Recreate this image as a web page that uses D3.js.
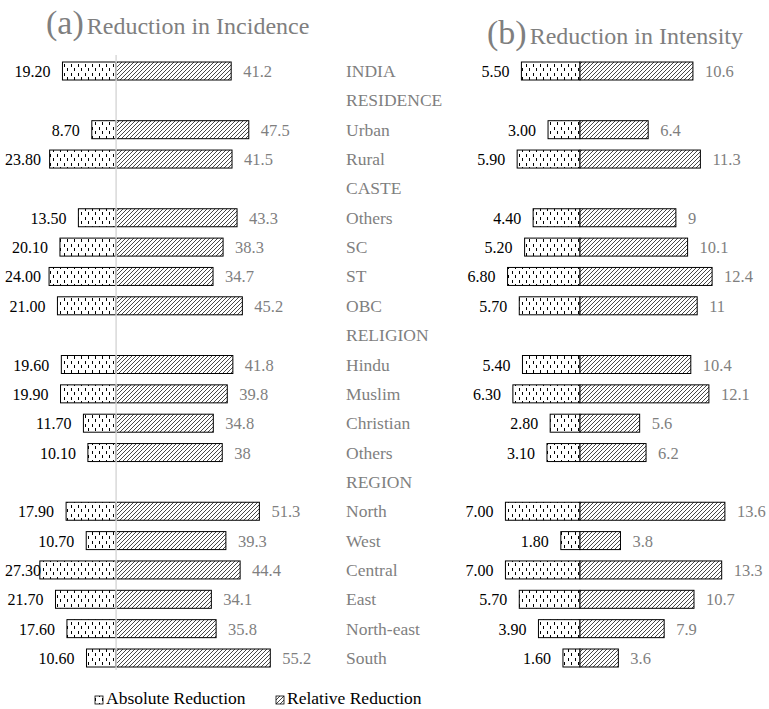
<!DOCTYPE html>
<html>
<head>
<meta charset="utf-8">
<script src="https://cdn.jsdelivr.net/npm/d3@7"></script>
<style>
  body { margin: 0; background: #fff; }
  .chart-text { font-family: "Liberation Serif", "Times New Roman", Times, "DejaVu Serif", serif; }
</style>
</head>
<body>
<div id="chart"></div>
<script>
// rows, with the group headings kept in place (null = heading row)
const rowLabels = ["INDIA", "RESIDENCE", "Urban", "Rural", "CASTE", "Others", "SC", "ST", "OBC",
  "RELIGION", "Hindu", "Muslim", "Christian", "Others", "REGION", "North", "West", "Central",
  "East", "North-east", "South"];

const incAbsolute = [19.20, null, 8.70, 23.80, null, 13.50, 20.10, 24.00, 21.00,
  null, 19.60, 19.90, 11.70, 10.10, null, 17.90, 10.70, 27.30, 21.70, 17.60, 10.60];
const incRelative = [41.2, null, 47.5, 41.5, null, 43.3, 38.3, 34.7, 45.2,
  null, 41.8, 39.8, 34.8, 38, null, 51.3, 39.3, 44.4, 34.1, 35.8, 55.2];

const intAbsolute = [5.50, null, 3.00, 5.90, null, 4.40, 5.20, 6.80, 5.70,
  null, 5.40, 6.30, 2.80, 3.10, null, 7.00, 1.80, 7.00, 5.70, 3.90, 1.60];
const intRelative = [10.6, null, 6.4, 11.3, null, 9, 10.1, 12.4, 11,
  null, 10.4, 12.1, 5.6, 6.2, null, 13.6, 3.8, 13.3, 10.7, 7.9, 3.6];

const legendLabels = ["Absolute Reduction", "Relative Reduction"];

const width = 769, height = 709;
const grey = "#7f7f7f";
const barH = 18;

const svg = d3.select("#chart").append("svg")
  .attr("width", width)
  .attr("height", height);

// patterns
const defs = svg.append("defs");
const dots = defs.append("pattern")
  .attr("id", "dash")
  .attr("patternUnits", "userSpaceOnUse")
  .attr("width", 7).attr("height", 9);
dots.append("rect").attr("width", 7).attr("height", 9).attr("fill", "#fff");
dots.append("rect").attr("x", 1).attr("y", 1).attr("width", 1).attr("height", 3).attr("fill", "#000");
dots.append("rect").attr("x", 4).attr("y", 5).attr("width", 1).attr("height", 3).attr("fill", "#000");

const hatch = defs.append("pattern")
  .attr("id", "hatch")
  .attr("patternUnits", "userSpaceOnUse")
  .attr("width", 4).attr("height", 4);
hatch.append("rect").attr("width", 4).attr("height", 4).attr("fill", "#fff");
hatch.append("path").attr("d", "M-1,1 l2,-2 M0,4 l4,-4 M3,5 l2,-2")
  .attr("stroke", "#333").attr("stroke-width", 0.9);

const y = d3.scalePoint()
  .domain(d3.range(rowLabels.length))
  .range([71, 658]);

// titles
function title(x, yy, letter, text) {
  const t = svg.append("text").attr("class", "chart-text")
    .attr("x", x).attr("y", yy).attr("fill", grey);
  t.append("tspan").attr("font-size", 34).text(letter);
  t.append("tspan").attr("font-size", 24).attr("dx", 3).text(text);
}
title(46, 34, "(a)", "Reduction in Incidence");
title(487, 44, "(b)", "Reduction in Intensity");

function panel(x, absVals, relVals, showAxis) {
  const g = svg.append("g");
  const rows = d3.range(rowLabels.length).filter(i => absVals[i] !== null);

  g.selectAll("rect.abs").data(rows).join("rect")
    .attr("class", "abs")
    .attr("x", i => x(-absVals[i]))
    .attr("y", i => y(i) - barH / 2)
    .attr("width", i => x(0) - x(-absVals[i]))
    .attr("height", barH)
    .attr("fill", "url(#dash)")
    .attr("stroke", "#000").attr("stroke-width", 1);

  g.selectAll("rect.rel").data(rows).join("rect")
    .attr("class", "rel")
    .attr("x", x(0))
    .attr("y", i => y(i) - barH / 2)
    .attr("width", i => x(relVals[i]) - x(0))
    .attr("height", barH)
    .attr("fill", "url(#hatch)")
    .attr("stroke", "#000").attr("stroke-width", 1);

  g.selectAll("text.abs").data(rows).join("text")
    .attr("class", "abs chart-text")
    .attr("text-anchor", "end")
    .attr("font-size", 16)
    .attr("fill", "#000")
    .attr("y", i => y(i) + 6)
    .text(i => absVals[i].toFixed(2))
    .attr("x", function(i) {
      const w = this.getComputedTextLength();
      return Math.max(x(-absVals[i]) - 12, 5 + w);
    });

  g.selectAll("text.rel").data(rows).join("text")
    .attr("class", "rel chart-text")
    .attr("font-size", 16.5)
    .attr("fill", grey)
    .attr("x", i => x(relVals[i]) + 12)
    .attr("y", i => y(i) + 6)
    .text(i => String(relVals[i]));

  if (showAxis) {
    g.append("line")
      .attr("x1", x(0)).attr("x2", x(0))
      .attr("y1", 55).attr("y2", 670)
      .attr("stroke", "#d9d9d9").attr("stroke-width", 1.5);
  }
}

const xInc = d3.scaleLinear().domain([-30, 60]).range([32.3, 283.7]);
const xInt = d3.scaleLinear().domain([-7.5, 15]).range([500.1, 739.8]);

panel(xInc, incAbsolute, incRelative, true);
panel(xInt, intAbsolute, intRelative, false);

// row labels
svg.append("g").selectAll("text").data(rowLabels).join("text")
  .attr("class", "chart-text")
  .attr("x", 346)
  .attr("y", (d, i) => y(i) + 6)
  .attr("font-size", 17.5)
  .attr("fill", grey)
  .text(d => d);

// legend
const leg = svg.append("g").attr("font-size", 17.5);
const legItems = [{x: 95, fill: "url(#dash)"}, {x: 276, fill: "url(#hatch)"}];
legItems.forEach((d, i) => {
  leg.append("rect").attr("x", d.x).attr("y", 696).attr("width", 8).attr("height", 8)
    .attr("fill", d.fill).attr("stroke", "#000").attr("stroke-width", 0.8);
  leg.append("text").attr("class", "chart-text")
    .attr("x", d.x + 11).attr("y", 704).attr("fill", "#000")
    .text(legendLabels[i]);
});
</script>
</body>
</html>
